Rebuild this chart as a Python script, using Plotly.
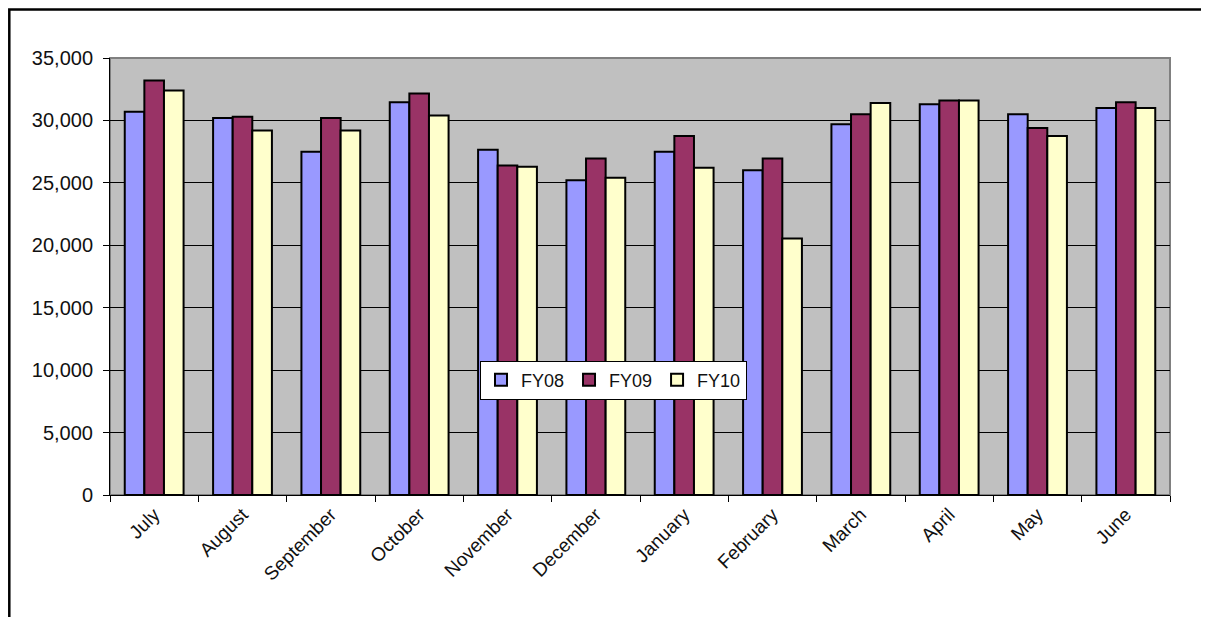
import plotly.graph_objects as go

months = ["July", "August", "September", "October", "November", "December",
          "January", "February", "March", "April", "May", "June"]
fy08 = [30700, 30200, 27500, 31450, 27650, 25200, 27500, 26000, 29700, 31300, 30500, 31000]
fy09 = [33200, 30300, 30200, 32150, 26400, 26950, 28750, 26950, 30500, 31600, 29400, 31450]
fy10 = [32400, 29200, 29200, 30400, 26300, 25400, 26200, 20550, 31400, 31600, 28750, 31000]
tick_vals = [0, 5000, 10000, 15000, 20000, 25000, 30000, 35000]

series = [("FY08", fy08, "#9999FF"), ("FY09", fy09, "#993366"), ("FY10", fy10, "#FFFFCC")]

fig = go.Figure()
for name, vals, col in series:
    fig.add_trace(go.Bar(
        x=months, y=vals, name=name,
        marker=dict(color=col, line=dict(color="black", width=2)),
    ))

fam = "Liberation Sans, Arial, sans-serif"
yfont = dict(family=fam, size=20, color="#111111")
xfont = dict(family=fam, size=19, color="#111111")
lfont = dict(family=fam, size=18, color="#111111")

fig.update_layout(
    width=1200, height=609,
    margin=dict(l=102, r=38, t=50, b=122),
    paper_bgcolor="white",
    plot_bgcolor="#C0C0C0",
    barmode="group",
    bargap=0.334,
    bargroupgap=0,
    font=xfont,
    showlegend=True,
    legend=dict(
        orientation="h",
        x=0.475, y=0.263, xanchor="center", yanchor="middle",
        bgcolor="white", bordercolor="black", borderwidth=1,
        font=lfont, itemwidth=30,
    ),
    xaxis=dict(
        showline=True, linecolor="black", linewidth=1,
        ticks="outside", tickson="boundaries", ticklen=6, tickcolor="black",
        tickangle=-45, tickfont=xfont, showgrid=False,
    ),
    yaxis=dict(
        range=[0, 35000], tickvals=tick_vals, tickformat=",",
        showline=True, linecolor="black", linewidth=1,
        ticks="outside", ticklen=6, tickcolor="black",
        showgrid=True, gridcolor="black", gridwidth=1,
        tickfont=yfont, zeroline=False, ticklabelstandoff=6,
    ),
    shapes=[
        dict(type="rect", xref="paper", yref="paper", x0=0, x1=1, y0=0, y1=1,
             line=dict(color="#808080", width=2), layer="below"),
        dict(type="rect", xref="paper", yref="paper",
             x0=-0.0950, x1=1.031, y0=-0.4, y1=1.111,
             line=dict(color="black", width=2.5)),
    ],
)

fig.write_html("out.html")
